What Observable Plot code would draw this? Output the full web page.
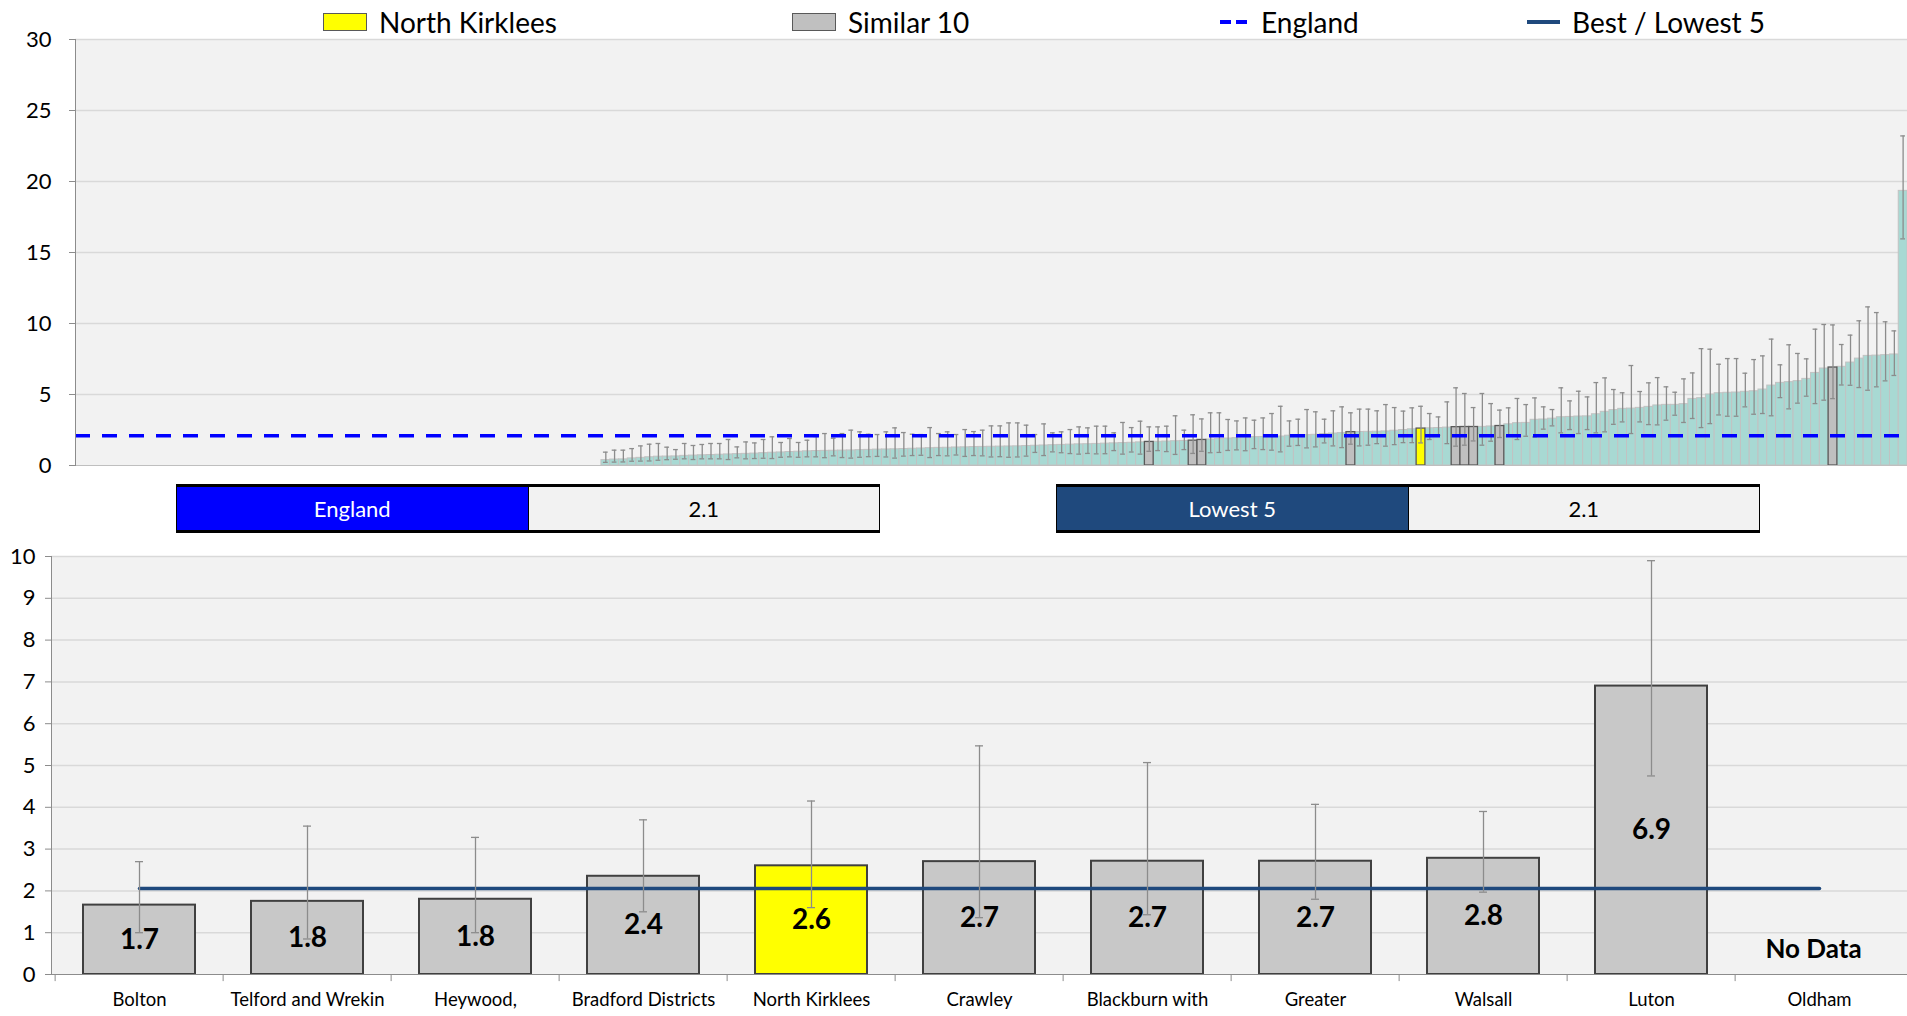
<!DOCTYPE html>
<html>
<head>
<meta charset="utf-8">
<script src="https://cdn.jsdelivr.net/npm/d3@7"></script>
<script src="https://cdn.jsdelivr.net/npm/@observablehq/plot@0.6"></script>
<style>
  body { margin:0; background:#fff; width:1907px; height:1016px; position:relative; overflow:hidden; font-family: Lato, "Open Sans", sans-serif; }
  #top { position:absolute; left:0; top:16px; }
  #bottom { position:absolute; left:0; top:540px; }
  .lg { position:absolute; top:0; height:44px; line-height:44px; font-size:28px; color:#000; white-space:nowrap; }
  .sw { position:absolute; box-sizing:border-box; }
  .box { position:absolute; top:484px; height:49px; box-sizing:border-box; border-top:3px solid #000; border-bottom:3px solid #000; border-left:1px solid #000; border-right:1px solid #000; display:flex; font-size:22px; }
  .box div { flex:1; display:flex; align-items:center; justify-content:center; }
</style>
</head>
<body>
<div id="top"></div>
<div id="legend"></div>
<div id="boxes"></div>
<div id="bottom"></div>
<script>
// ---------- DATA ----------
// Top chart: all 209 areas sorted ascending; the first 60 have no data
const totalAreas = 209;
const noDataAreas = 60;
const topValues = [
  0.38,0.42,0.43,0.5,0.54,0.58,0.62,0.63,0.64,0.68,0.7,0.72,0.74,0.76,0.78,0.8,0.82,0.84,0.87,0.9,0.92,0.95,0.97,1.0,1.02,
  1.03,1.04,1.05,1.06,1.08,1.1,1.12,1.13,1.14,1.16,1.18,1.2,1.22,1.24,1.25,1.27,1.28,1.3,1.31,1.32,1.33,1.34,1.35,1.37,
  1.39,1.41,1.43,1.45,1.47,1.49,1.5,1.52,1.54,1.56,1.58,1.6,1.63,1.66,1.67,1.69,1.71,1.73,1.75,1.8,1.83,1.86,1.9,1.93,1.96,
  2.0,2.01,2.02,2.04,2.1,2.12,2.14,2.16,2.22,2.25,2.28,2.35,2.36,2.37,2.38,2.4,2.45,2.5,2.55,2.6,2.62,2.64,2.67,2.7,2.71,2.71,2.72,2.75,2.78,2.9,2.98,3.0,3.22,3.24,3.3,3.4,3.42,3.45,
  3.46,3.61,3.78,3.9,3.99,4.01,4.06,4.13,4.23,4.27,4.27,4.32,4.69,4.74,5.0,5.09,5.12,5.14,5.19,5.23,5.35,5.63,5.82,5.87,5.94,6.1,6.52,6.83,6.9,6.95,7.25,7.53,7.72,7.74,7.77,7.82,19.34
];
const topUpper = [
  0.94,1.08,1.08,1.19,1.38,1.5,1.55,1.29,1.12,1.55,1.41,1.48,1.55,1.55,1.83,1.31,1.66,1.59,1.83,2.02,1.62,1.9,1.62,1.78,2.04,
  2.25,1.92,2.25,2.49,2.37,2.2,2.18,2.37,2.65,2.32,2.2,2.18,
  2.67,2.25,2.37,2.18,2.53,2.39,2.49,2.79,2.79,3.0,3.0,2.84,2.18,2.93,2.3,2.37,2.53,2.72,2.65,2.77,2.77,2.3,3.03,2.67,3.12,2.72,2.72,2.77,3.5,2.49,3.57,3.28,3.71,3.71,3.24,3.14,3.35,
  3.19,3.35,3.66,4.17,3.14,3.26,3.94,3.78,3.26,3.85,4.13,3.71,3.97,3.97,3.85,4.29,4.08,3.83,4.06,4.17,3.66,3.42,4.48,5.47,5.07,4.08,5.07,4.36,3.9,4.06,4.72,4.29,4.76,4.13,3.94,5.47,4.55,5.23,4.83,
  5.84,6.17,5.35,5.12,7.04,5.21,5.82,6.19,5.54,5.16,6.10,6.52,8.23,8.19,7.13,7.53,7.53,6.5,7.46,7.72,8.9,7.09,8.5,7.89,7.51,9.6,9.93,9.9,8.52,9.18,10.19,11.17,10.77,10.12,9.48,23.21
];
const topLower = [
  0.22,0.24,0.25,0.3,0.31,0.32,0.37,0.41,0.44,0.47,0.42,0.47,0.47,0.47,0.42,0.54,0.47,0.49,0.51,0.49,0.58,0.61,0.58,0.61,0.61,
  0.55,0.68,0.56,0.52,0.58,0.62,0.64,0.6,0.52,0.66,0.7,0.72,0.56,0.7,0.68,0.74,0.64,0.7,0.68,0.6,0.62,0.58,0.6,0.66,
  0.92,0.7,0.96,0.9,0.84,0.8,0.85,0.82,0.83,1.05,0.8,0.95,0.8,1.0,1.05,0.98,0.78,1.12,0.85,1.0,0.9,0.92,1.06,1.1,1.04,
  1.19,1.12,1.08,0.96,1.36,1.41,1.24,1.31,1.59,1.38,1.26,1.5,1.38,1.43,1.54,1.36,1.47,1.61,1.61,1.59,1.83,2.13,1.54,1.36,1.43,1.73,1.43,1.71,1.97,2.06,1.83,2.06,2.01,2.56,2.79,2.3,2.53,2.25,2.53,
  2.30,2.37,2.90,3.07,2.25,3.07,2.88,2.86,3.19,3.54,3.03,3.31,2.67,2.95,3.56,3.47,3.47,4.13,3.61,3.66,3.5,4.78,3.99,4.39,4.88,4.36,4.6,4.71,5.67,5.65,5.49,5.3,5.54,5.96,6.34,15.96
];
// rank positions (0-based, among all 209) of the similar-10 areas and of North Kirklees
const similarRanks = [122,127,128,145,157,158,159,162,200];
const northKirkleesRank = 153;
const topTicks = [0,5,10,15,20,25,30];

// Bottom chart: similar 10
const categories = ["Bolton","Telford and Wrekin","Heywood,","Bradford Districts","North Kirklees","Crawley","Blackburn with","Greater","Walsall","Luton","Oldham"];
const values = [1.66,1.75,1.8,2.35,2.6,2.7,2.71,2.71,2.78,6.9,null];
const lowerCI = [1.0,0.85,1.0,1.5,1.6,1.36,1.43,1.8,1.97,4.75,null];
const upperCI = [2.7,3.55,3.28,3.7,4.15,5.47,5.07,4.07,3.9,9.9,null];
const bottomTicks = [0,1,2,3,4,5,6,7,8,9,10];
const englandValue = 2.1;
const lowest5Value = 2.06;
const highlight = "North Kirklees";
const noDataLabel = "No Data";

// ---------- LEGEND ----------
const legend = document.getElementById("legend");
legend.innerHTML = `
  <div class="sw" style="left:323px;top:13px;width:44px;height:18px;background:#ffff00;border:1.5px solid #595959"></div>
  <div class="lg" style="left:379px">North Kirklees</div>
  <div class="sw" style="left:792px;top:13px;width:44px;height:18px;background:#c0c0c0;border:1.5px solid #595959"></div>
  <div class="lg" style="left:848px">Similar 10</div>
  <div class="sw" style="left:1220px;top:20px;width:11px;height:4px;background:#0000ff"></div>
  <div class="sw" style="left:1236px;top:20px;width:11px;height:4px;background:#0000ff"></div>
  <div class="lg" style="left:1261px">England</div>
  <div class="sw" style="left:1527px;top:20px;width:33px;height:4px;background:#1f497d"></div>
  <div class="lg" style="left:1572px">Best / Lowest 5</div>`;

// ---------- BOXES ----------
document.getElementById("boxes").innerHTML = `
  <div class="box" style="left:176px;width:704px">
    <div style="background:#0000ff;color:#fff;border-right:1px solid #000">England</div>
    <div style="background:#f2f2f2;color:#000">${englandValue.toFixed(1)}</div>
  </div>
  <div class="box" style="left:1056px;width:704px">
    <div style="background:#1f497d;color:#fff;border-right:1px solid #000">Lowest 5</div>
    <div style="background:#f2f2f2;color:#000">${lowest5Value.toFixed(1)}</div>
  </div>`;

// ---------- TOP CHART ----------
const topRows = d3.range(totalAreas).map(i => {
  const k = i - noDataAreas;
  return {
    id: i,
    v: k >= 0 ? topValues[k] : null,
    lo: k >= 0 ? topLower[k] : null,
    hi: k >= 0 ? topUpper[k] : null,
    kind: i === northKirkleesRank ? "nk" : similarRanks.includes(i) ? "sim" : "other"
  };
});
const withData = topRows.filter(d => d.v != null);

const topPlot = Plot.plot({
  width: 1907, height: 464,
  marginLeft: 75, marginRight: 0, marginTop: 23, marginBottom: 15,
  style: { fontFamily: "Lato, 'Open Sans', sans-serif", fontSize: "22px", color: "#000", background: "transparent" },
  x: { type: "band", domain: topRows.map(d => d.id), padding: 0, axis: null, label: null },
  y: { domain: [0, 30], axis: null, label: null },
  marks: [
    Plot.frame({ fill: "#f2f2f2", stroke: null }),
    Plot.gridY(topTicks.slice(1), { stroke: "#d9d9d9", strokeOpacity: 1, strokeWidth: 1.5 }),
    Plot.barY(withData.filter(d => d.kind === "other"), { x: "id", y: "v", fill: "#a8d9d3", stroke: "#c2c2c2", strokeWidth: 1 }),
    Plot.barY(withData.filter(d => d.kind !== "other"), { x: "id", y: "v", fill: d => d.kind === "nk" ? "#ffff00" : "#bfbfbf", stroke: "#595959", strokeWidth: 1.3 }),
    Plot.ruleX(withData, { x: "id", y1: "lo", y2: "hi", stroke: "#8c8c8c", strokeWidth: 1.3 }),
    Plot.tickY(withData, { x: "id", y: "hi", stroke: "#8c8c8c", strokeWidth: 1.3, insetLeft: 2, insetRight: 2 }),
    Plot.tickY(withData, { x: "id", y: "lo", stroke: "#8c8c8c", strokeWidth: 1.3, insetLeft: 2, insetRight: 2 }),
    Plot.ruleY([englandValue], { stroke: "#0000ff", strokeWidth: 3.5, strokeDasharray: "15,12" }),
    Plot.ruleY([0], { stroke: "#bfbfbf" }),
    Plot.frame({ anchor: "left", stroke: "#8c8c8c" }),
    Plot.axisY(topTicks, { tickSize: 6, tickPadding: 18, stroke: "#8c8c8c", fill: "#000", fontSize: 22, label: null })
  ]
});
document.getElementById("top").appendChild(topPlot);

// ---------- BOTTOM CHART ----------
const rows = categories.map((c, i) => ({
  c, v: values[i], lo: lowerCI[i], hi: upperCI[i],
  label: values[i] == null ? noDataLabel : values[i].toFixed(1)
}));
const bData = rows.filter(d => d.v != null);
const bW = 1907, bML = 51, bMR = 0;
const pInner = 0.336;
const step = (bW - bML - bMR) / categories.length;
const bandW = step * (1 - pInner);
const capInset = (bandW - 8) / 2;

const bottomPlot = Plot.plot({
  width: bW, height: 476,
  marginLeft: bML, marginRight: bMR, marginTop: 16, marginBottom: 42,
  style: { fontFamily: "Lato, 'Open Sans', sans-serif", fontSize: "18px", color: "#000", background: "transparent" },
  x: { type: "band", domain: categories, paddingInner: pInner, paddingOuter: pInner / 2, axis: null, label: null },
  y: { domain: [0, 10], axis: null, label: null },
  marks: [
    Plot.frame({ fill: "#f2f2f2", stroke: null }),
    Plot.gridY(bottomTicks.slice(1), { stroke: "#d9d9d9", strokeOpacity: 1, strokeWidth: 1.5 }),
    Plot.barY(bData, { x: "c", y: "v", fill: d => d.c === highlight ? "#ffff00" : "#c8c8c8", stroke: "#404040", strokeWidth: 2 }),
    Plot.line([categories[0], categories[categories.length - 1]], { x: d => d, y: () => lowest5Value, stroke: "#1f497d", strokeWidth: 3.5 }),
    Plot.ruleX(bData, { x: "c", y1: "lo", y2: "hi", stroke: "#8c8c8c", strokeWidth: 1.3 }),
    Plot.tickY(bData, { x: "c", y: "hi", stroke: "#8c8c8c", strokeWidth: 1.3, insetLeft: capInset, insetRight: capInset }),
    Plot.tickY(bData, { x: "c", y: "lo", stroke: "#8c8c8c", strokeWidth: 1.3, insetLeft: capInset, insetRight: capInset }),
    Plot.text(bData, { x: "c", y: d => d.v / 2, text: "label", fontSize: 28, fontWeight: "bold", fill: "#000" }),
    Plot.text(rows.filter(d => d.v == null), { x: "c", y: () => 0.6, text: "label", fontSize: 26, fontWeight: "bold", fill: "#000", dx: -6 }),
    Plot.frame({ anchor: "left", stroke: "#8c8c8c" }),
    Plot.frame({ anchor: "bottom", stroke: "#8c8c8c" }),
    Plot.ruleX(categories, { x: d => d, dx: -step / 2, y1: 0, y2: -0.17, stroke: "#8c8c8c" }),
    Plot.axisY(bottomTicks, { tickSize: 6, tickPadding: 10, stroke: "#8c8c8c", fill: "#000", fontSize: 22, label: null }),
    Plot.axisX({ tickSize: 0, tickPadding: 18, fill: "#000", fontSize: 18.5, label: null })
  ]
});
document.getElementById("bottom").appendChild(bottomPlot);
</script>
</body>
</html>
